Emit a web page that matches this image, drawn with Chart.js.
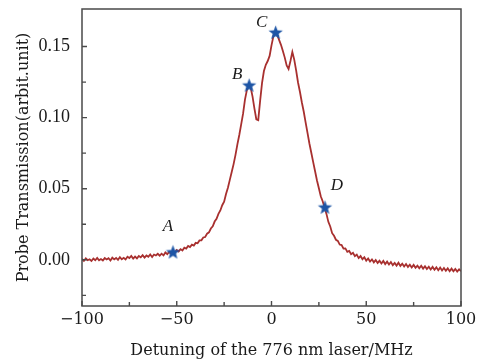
<!DOCTYPE html>
<html><head><meta charset="utf-8">
<script src="https://cdn.jsdelivr.net/npm/chart.js@4.4.1/dist/chart.umd.min.js"></script>
<style>html,body{margin:0;padding:0;background:#fff;}</style>
</head><body>
<canvas id="c" width="487" height="362"></canvas>
<script>
// ---- data ----
const detuning = [
-100,-99,-98,-97,-96,-95,-94,-93,-92,-91,-90,-89,-88,-87,-86,-85,-84,-83,-82,-81,
-80,-79,-78,-77,-76,-75,-74,-73,-72,-71,-70,-69,-68,-67,-66,-65,-64,-63,-62,-61,
-60,-59,-58,-57,-56,-55,-54,-53,-52,-51,-50,-49,-48,-47,-46,-45,-44,-43,-42,-41,
-40,-39,-38,-37,-36,-35,-34,-33,-32,-31,-30,-29,-28,-27,-26,-25,-24,-23,-22,-21,
-20,-19,-18,-17,-16,-15,-14,-13,-12,-11,-10,-9,-8,-7,-6,-5,-4,-3,-2,-1,
0,1,2,3,4,5,6,7,8,9,10,11,12,13,14,15,16,17,18,19,
20,21,22,23,24,25,26,27,28,29,30,31,32,33,34,35,36,37,38,39,
40,41,42,43,44,45,46,47,48,49,50,51,52,53,54,55,56,57,58,59,
60,61,62,63,64,65,66,67,68,69,70,71,72,73,74,75,76,77,78,79,
80,81,82,83,84,85,86,87,88,89,90,91,92,93,94,95,96,97,98,99,100];
const transmission = [
0.0006,-0.0008,0.0010,-0.0003,0.0004,-0.0008,0.0009,-0.0003,0.0013,-0.0004,
0.0005,-0.0005,0.0012,0.0002,0.0011,-0.0005,0.0015,0.0003,0.0013,0.0000,
0.0019,0.0004,0.0014,0.0002,0.0021,0.0012,0.0027,0.0009,0.0023,0.0010,
0.0027,0.0017,0.0033,0.0016,0.0030,0.0021,0.0037,0.0020,0.0037,0.0030,
0.0042,0.0029,0.0043,0.0031,0.0052,0.0040,0.0055,0.0043,0.0058,0.0051,
0.0069,0.0059,0.0075,0.0065,0.0085,0.0079,0.0097,0.0089,0.0106,0.0100,
0.0119,0.0116,0.0136,0.0137,0.0157,0.0160,0.0184,0.0193,0.0220,0.0235,
0.0269,0.0288,0.0323,0.0347,0.0384,0.0408,0.0463,0.0507,0.0562,0.0617,
0.0673,0.0738,0.0812,0.0878,0.0953,0.1028,0.1127,0.1193,0.1228,0.1212,
0.1148,0.1063,0.0988,0.0982,0.1118,0.1243,0.1328,0.1372,0.1398,0.1434,
0.1508,0.1572,0.1598,0.1583,0.1547,0.1512,0.1468,0.1422,0.1367,0.1342,
0.1398,0.1462,0.1408,0.1333,0.1247,0.1182,0.1108,0.1043,0.0967,0.0893,
0.0818,0.0753,0.0687,0.0623,0.0558,0.0503,0.0447,0.0412,0.0368,0.0323,
0.0267,0.0234,0.0187,0.0169,0.0141,0.0133,0.0107,0.0104,0.0079,0.0080,
0.0056,0.0063,0.0039,0.0049,0.0025,0.0036,0.0012,0.0026,0.0004,0.0018,
-0.0006,0.0009,-0.0012,0.0003,-0.0018,-0.0001,-0.0022,-0.0007,-0.0026,-0.0008,
-0.0030,-0.0013,-0.0033,-0.0016,-0.0038,-0.0022,-0.0041,-0.0021,-0.0043,-0.0027,
-0.0047,-0.0030,-0.0050,-0.0034,-0.0054,-0.0036,-0.0056,-0.0041,-0.0060,-0.0042,
-0.0062,-0.0045,-0.0065,-0.0049,-0.0068,-0.0050,-0.0070,-0.0053,-0.0073,-0.0055,
-0.0075,-0.0058,-0.0077,-0.0060,-0.0080,-0.0062,-0.0081,-0.0064,-0.0083,-0.0067,
-0.0080];
const markerX = [-52, -11.8, 2.2, 28.2];
const markerY = [0.0055, 0.1228, 0.1600, 0.0370];
const markerLabels = ['A', 'B', 'C', 'D'];
const xTicks = [-100, -50, 0, 50, 100];
const xMinorTicks = [-75, -25, 25, 75];
const yTicks = [0, 0.05, 0.10, 0.15];
const yMinorTicks = [-0.025, 0.025, 0.075, 0.125];
const xTitle = 'Detuning of the 776 nm laser/MHz';
const yTitle = 'Probe Transmission(arbit.unit)';

// ---- styling ----
const labelOffsets = [[-5, -25], [-12, -11], [-14, -10], [12, -22]];

function makeStar(r, color) {
  const s = Math.ceil(r * 2) + 2;
  const c = document.createElement('canvas');
  c.width = s; c.height = s;
  const g = c.getContext('2d');
  g.fillStyle = color;
  g.beginPath();
  for (let i = 0; i < 10; i++) {
    const rad = (i % 2) ? r * 0.42 : r;
    const a = -Math.PI / 2 + i * Math.PI / 5;
    const px = s / 2 + rad * Math.cos(a), py = s / 2 + 0.6 + rad * Math.sin(a);
    if (i) g.lineTo(px, py); else g.moveTo(px, py);
  }
  g.closePath();
  g.fill();
  return c;
}
const starImg = makeStar(7.5, '#1d55a6');

const decorPlugin = {
  id: 'decor',
  afterDatasetsDraw(chart) {
    const ctx = chart.ctx;
    const a = chart.chartArea;
    const xs = chart.scales.x, ys = chart.scales.y;
    ctx.save();
    ctx.strokeStyle = '#4a4a4a';
    ctx.lineWidth = 1.5;
    ctx.strokeRect(a.left, a.top, a.right - a.left, a.bottom - a.top);
    ctx.lineWidth = 1.4;
    ctx.beginPath();
    xTicks.forEach(v => { const p = xs.getPixelForValue(v); ctx.moveTo(p, a.bottom); ctx.lineTo(p, a.bottom - 5); });
    xMinorTicks.forEach(v => { const p = xs.getPixelForValue(v); ctx.moveTo(p, a.bottom); ctx.lineTo(p, a.bottom - 4); });
    yTicks.forEach(v => { const p = ys.getPixelForValue(v); ctx.moveTo(a.left, p); ctx.lineTo(a.left + 5, p); });
    yMinorTicks.forEach(v => { const p = ys.getPixelForValue(v); ctx.moveTo(a.left, p); ctx.lineTo(a.left + 4, p); });
    ctx.stroke();
    ctx.fillStyle = '#1a1a1a';
    ctx.font = 'italic 17px "Liberation Serif"';
    ctx.textAlign = 'center';
    ctx.textBaseline = 'middle';
    markerLabels.forEach((t, i) => {
      const px = xs.getPixelForValue(markerX[i]);
      const py = ys.getPixelForValue(markerY[i]);
      ctx.fillText(t, px + labelOffsets[i][0], py + labelOffsets[i][1]);
    });
    ctx.restore();
  }
};

new Chart(document.getElementById('c'), {
  type: 'line',
  data: {
    datasets: [
      {
        label: 'markers',
        data: markerX.map((x, i) => ({ x: x, y: markerY[i] })),
        showLine: false,
        pointStyle: starImg,
        pointRadius: 8,
        order: 0
      },
      {
        label: 'transmission',
        data: detuning.map((x, i) => ({ x: x, y: transmission[i] })),
        borderColor: '#a8302f',
        borderWidth: 1.8,
        pointRadius: 0,
        tension: 0,
        fill: false,
        order: 1
      }
    ]
  },
  options: {
    responsive: false,
    animation: false,
    devicePixelRatio: 1,
    layout: { padding: { top: 6, right: 26, left: 0, bottom: 0 } },
    plugins: { legend: { display: false }, tooltip: { enabled: false } },
    scales: {
      x: {
        type: 'linear',
        min: -100, max: 100,
        afterBuildTicks: s => { s.ticks = xTicks.map(v => ({ value: v })); },
        afterFit: s => { s.height = 56; s.paddingLeft = 0; s.paddingRight = 0; },
        grid: { display: false, drawTicks: false },
        border: { display: false },
        ticks: {
          autoSkip: false, maxRotation: 0, padding: 4, color: '#1a1a1a',
          font: { family: 'DejaVu Serif', size: 16 },
          callback: v => v < 0 ? '\u2212' + Math.abs(v) : String(v)
        },
        title: {
          display: true, text: xTitle, color: '#1a1a1a',
          font: { family: 'DejaVu Serif', size: 16 },
          padding: { top: 0, bottom: 2 }
        }
      },
      y: {
        type: 'linear',
        min: -0.0325, max: 0.1764,
        afterBuildTicks: s => { s.ticks = yTicks.map(v => ({ value: v })); },
        afterFit: s => { s.width = 82; s.paddingTop = 0; s.paddingBottom = 0; },
        grid: { display: false, drawTicks: false },
        border: { display: false },
        ticks: {
          padding: 12, color: '#1a1a1a',
          font: { family: '"Liberation Serif"', size: 18 },
          callback: v => Math.abs(v) < 1e-9 ? '0.00' : v.toFixed(2)
        },
        title: {
          display: true, text: yTitle, color: '#1a1a1a',
          font: { family: 'DejaVu Serif', size: 16 },
          padding: { top: 14, bottom: 0 }
        }
      }
    }
  },
  plugins: [decorPlugin]
});
</script>
</body></html>
